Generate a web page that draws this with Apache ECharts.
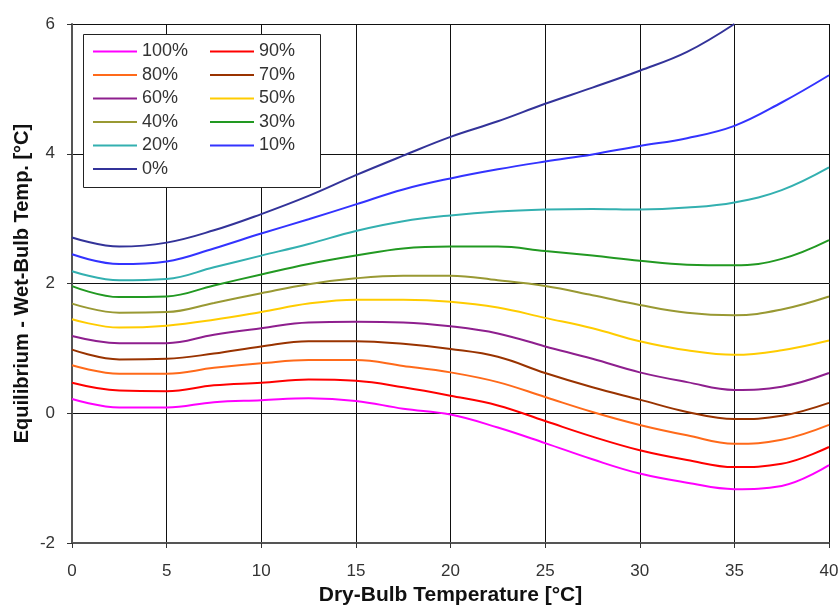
<!DOCTYPE html>
<html>
<head>
<meta charset="utf-8">
<script src="https://cdn.jsdelivr.net/npm/echarts@6/dist/echarts.min.js"></script>
<style>
html,body{margin:0;padding:0;background:#fff;}
#chart{width:840px;height:606px;}
</style>
</head>
<body>
<div id="chart"></div>
<script>
// Dry-bulb temperatures (°C)
const dryBulb = [0, 2.5, 5, 7.5, 10, 12.5, 15, 17.5, 20, 22.5, 25, 27.5, 30, 32.5, 35, 37.5, 40];

// Equilibrium minus wet-bulb temperature (°C) per relative humidity
const rh100 = [0.22, 0.09, 0.09, 0.17, 0.20, 0.23, 0.19, 0.07, -0.02, -0.22, -0.46, -0.71, -0.93, -1.07, -1.17, -1.12, -0.80];
const rh90  = [0.47, 0.35, 0.34, 0.43, 0.47, 0.52, 0.50, 0.40, 0.27, 0.12, -0.12, -0.36, -0.57, -0.72, -0.83, -0.78, -0.52];
const rh80  = [0.74, 0.61, 0.61, 0.70, 0.77, 0.82, 0.82, 0.73, 0.63, 0.48, 0.25, 0.02, -0.18, -0.34, -0.47, -0.41, -0.18];
const rh70  = [0.98, 0.83, 0.84, 0.92, 1.03, 1.11, 1.11, 1.07, 0.99, 0.87, 0.62, 0.40, 0.21, 0.02, -0.09, -0.04, 0.16];
const rh60  = [1.19, 1.08, 1.08, 1.21, 1.31, 1.40, 1.41, 1.40, 1.34, 1.23, 1.03, 0.84, 0.63, 0.48, 0.36, 0.41, 0.62];
const rh50  = [1.45, 1.32, 1.35, 1.44, 1.56, 1.69, 1.75, 1.75, 1.72, 1.63, 1.47, 1.31, 1.11, 0.97, 0.90, 0.97, 1.12];
const rh40  = [1.69, 1.55, 1.56, 1.70, 1.85, 1.99, 2.08, 2.12, 2.12, 2.05, 1.96, 1.82, 1.67, 1.55, 1.51, 1.60, 1.80];
const rh30  = [1.96, 1.79, 1.80, 1.97, 2.14, 2.30, 2.43, 2.54, 2.57, 2.57, 2.50, 2.43, 2.35, 2.29, 2.28, 2.38, 2.67];
const rh20  = [2.19, 2.05, 2.07, 2.25, 2.43, 2.61, 2.81, 2.96, 3.05, 3.11, 3.14, 3.15, 3.14, 3.17, 3.25, 3.44, 3.79];
const rh10  = [2.45, 2.30, 2.34, 2.54, 2.77, 2.99, 3.22, 3.45, 3.62, 3.76, 3.88, 3.99, 4.12, 4.24, 4.43, 4.79, 5.21];
const rh0   = [2.71, 2.57, 2.63, 2.82, 3.07, 3.35, 3.67, 3.97, 4.26, 4.50, 4.77, 5.02, 5.28, 5.57, 6.00, null, null];

const seriesNames = ['100%', '90%', '80%', '70%', '60%', '50%', '40%', '30%', '20%', '10%', '0%'];
const seriesValues = [rh100, rh90, rh80, rh70, rh60, rh50, rh40, rh30, rh20, rh10, rh0];
const seriesColors = ['#ff00ff', '#ff0000', '#ff6a1a', '#993300', '#8e1f8e', '#ffcc00', '#999933', '#229922', '#33b0b0', '#3333ff', '#333399'];

const yTicks = { min: -2, max: 6, interval: 2 };
const xTicks = { min: 0, max: 40, interval: 5 };

const chart = echarts.init(document.getElementById('chart'), null, { renderer: 'canvas' });

const FONT = "'Liberation Sans', Arial, sans-serif";

const series = seriesNames.map((name, i) => ({
  name: name,
  type: 'line',
  smooth: 0.4,
  symbol: 'none',
  connectNulls: false,
  lineStyle: { color: seriesColors[i], width: 2 },
  itemStyle: { color: seriesColors[i] },
  data: dryBulb.map((x, j) => [x, seriesValues[i][j]]),
  z: 2
}));

const legendText = { fontFamily: FONT, fontSize: 18, color: '#333' };

const legendCommon = {
  orient: 'vertical',
  top: 42.5,
  padding: 0,
  icon: 'rect',
  itemWidth: 44, itemHeight: 2, itemGap: 5.5,
  textStyle: legendText,
  selectedMode: false
};

chart.setOption({
  animation: false,
  backgroundColor: '#ffffff',
  grid: { left: 72, right: 11, top: 24, bottom: 63, containLabel: false, outerBoundsMode: 'none' },
  xAxis: {
    type: 'value',
    min: xTicks.min, max: xTicks.max, interval: xTicks.interval,
    name: 'Dry-Bulb Temperature [°C]',
    nameLocation: 'middle',
    nameGap: 42,
    nameTextStyle: { fontFamily: FONT, fontSize: 21, fontWeight: 'bold', color: '#111' },
    axisLine: { show: true, onZero: false, lineStyle: { color: '#555', width: 2 } },
    axisTick: { show: true, inside: false, length: 5, lineStyle: { color: '#333' } },
    axisLabel: { fontFamily: FONT, fontSize: 17, color: '#333', margin: 20 },
    splitLine: { show: true, lineStyle: { color: '#111', width: 1 } }
  },
  yAxis: {
    type: 'value',
    min: yTicks.min, max: yTicks.max, interval: yTicks.interval,
    name: 'Equilibrium - Wet-Bulb Temp. [°C]',
    nameLocation: 'middle',
    nameGap: 40,
    nameMoveOverlap: false,
    nameTextStyle: { fontFamily: FONT, fontSize: 20, fontWeight: 'bold', color: '#111' },
    axisLine: { show: true, onZero: false, lineStyle: { color: '#555', width: 2 } },
    axisTick: { show: true, inside: false, length: 5, lineStyle: { color: '#333' } },
    axisLabel: { fontFamily: FONT, fontSize: 17, color: '#333', margin: 17 },
    splitLine: { show: true, lineStyle: { color: '#111', width: 1 } }
  },
  graphic: [{
    type: 'rect',
    z: 3,
    shape: { x: 83.5, y: 34.5, width: 237, height: 153 },
    style: { fill: '#ffffff', stroke: '#222', lineWidth: 1 }
  }],
  legend: [
    Object.assign({ data: ['100%', '80%', '60%', '40%', '20%', '0%'], left: 93 }, legendCommon),
    Object.assign({ data: ['90%', '70%', '50%', '30%', '10%'], left: 210 }, legendCommon)
  ],
  series: series
});
</script>
</body>
</html>
